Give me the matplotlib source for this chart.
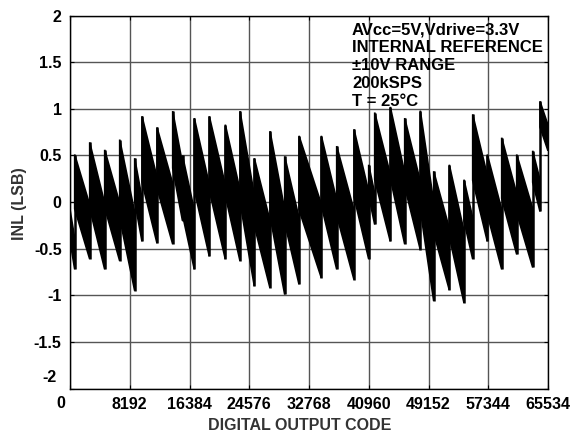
import matplotlib
matplotlib.use('Agg')
import matplotlib.pyplot as plt

plt.rcParams['font.family'] = ['Liberation Sans', 'DejaVu Sans']
plt.rcParams['font.weight'] = 'bold'

# ---- data (sawtooth INL trace: start code, peak, end-of-tooth bottom) ----
tooth_start = [0, 644, 2701, 4757, 6814, 8870, 9871, 11928, 14080, 15424,
               17042, 19098, 21292, 23307, 25268, 27420, 29435, 31396, 34453, 36565,
               38936, 40951, 41774, 43913, 45887, 48026, 49863, 52002, 54017, 55210,
               57212, 59186, 61243, 63436, 64437]
tooth_top = [-0.08, 0.51, 0.64, 0.56, 0.67, 0.47, 0.92, 0.80, 0.975, 0.50,
             0.90, 0.92, 0.83, 0.975, 0.47, 0.76, 0.49, 0.71, 0.71, 0.60,
             0.78, 0.40, 0.96, 1.02, 0.90, 0.98, 0.33, 0.40, 0.24, 0.94,
             0.51, 0.69, 0.51, 0.55, 1.08]
tooth_bottom = [-0.72, -0.61, -0.72, -0.63, -0.95, -0.42, -0.44, -0.45, -0.20, -0.72,
                -0.58, -0.61, -0.63, -0.90, -0.92, -0.99, -0.88, -0.81, -0.72, -0.83,
                -0.61, -0.24, -0.42, -0.45, -0.51, -1.06, -0.94, -1.08, -0.61, -0.42,
                -0.72, -0.56, -0.70, -0.10, 0.55]
code_max = 65534

x_ticks = [0, 8192, 16384, 24576, 32768, 40960, 49152, 57344, 65534]
x_tick_labels = ['0', '8192', '16384', '24576', '32768', '40960', '49152', '57344', '65534']
y_ticks = [-2, -1.5, -1, -0.5, 0, 0.5, 1, 1.5, 2]
y_tick_labels = ['-2', '-1.5', '-1', '-0.5', '0', '0.5', '1', '1.5', '2']
x_label = 'DIGITAL OUTPUT CODE'
y_label = 'INL (LSB)'
notes = ['AVcc=5V,Vdrive=3.3V', 'INTERNAL REFERENCE', '\u00b110V RANGE', '200kSPS', 'T = 25\u00b0C']

W, H = 570, 434
fig = plt.figure(figsize=(W / 100, H / 100), dpi=100)
L, R, T, B = 70, 548, 15.5, 388.7
ax = fig.add_axes([L / W, 1 - B / H, (R - L) / W, (B - T) / H])
ax.set_xlim(0, code_max)
ax.set_ylim(-2, 2)

# trace bands
band_frac = 0.52
ends = tooth_start[1:] + [code_max]
for s, e, t, b in zip(tooth_start, ends, tooth_top, tooth_bottom):
    w = band_frac * (t - b)
    ax.fill([s, e, e, s], [t, b + w, b, t - w], facecolor='black',
            edgecolor='black', lw=1.2, zorder=3)
ax.vlines(tooth_start[1:], tooth_bottom[:-1], tooth_top[1:], color='black', lw=1.8, zorder=3)

# grid and ticks
fs_tick = 11.5
ax.set_xticks(x_ticks)
ax.set_yticks(y_ticks)
ax.set_xticklabels([''] + x_tick_labels[1:], fontsize=fs_tick, fontweight='bold')
ax.set_yticklabels([''] + y_tick_labels[1:], fontsize=fs_tick, fontweight='bold')
ax.grid(True, color='#555555', lw=1.0, zorder=1)
ax.set_axisbelow(True)
ax.tick_params(direction='in', length=3, width=0.8, top=True, right=True, pad=6)
ax.tick_params(axis='y', pad=6)
for sp in ax.spines.values():
    sp.set_linewidth(1.0)
    sp.set_zorder(4)

# offset corner labels (as in the reference)
fig.text(57 / W, 1 - 377 / H, y_tick_labels[0], ha='right', va='center', fontsize=fs_tick, fontweight='bold')
fig.text(61 / W, 1 - 403 / H, x_tick_labels[0], ha='center', va='center', fontsize=fs_tick, fontweight='bold')

fig.text(300 / W, 1 - 425 / H, x_label, ha='center', va='center', fontsize=11.5, fontweight='bold', color='#333333')
fig.text(20 / W, 1 - 204 / H, y_label, ha='center', va='center', rotation=90, fontsize=11.5, fontweight='bold', color='#333333')

for i, line in enumerate(notes):
    fig.text(352 / W, 1 - (30 + 18 * i) / H, line, ha='left', va='center', fontsize=12, fontweight='bold', zorder=5)

fig.savefig('out.png', dpi=100)
